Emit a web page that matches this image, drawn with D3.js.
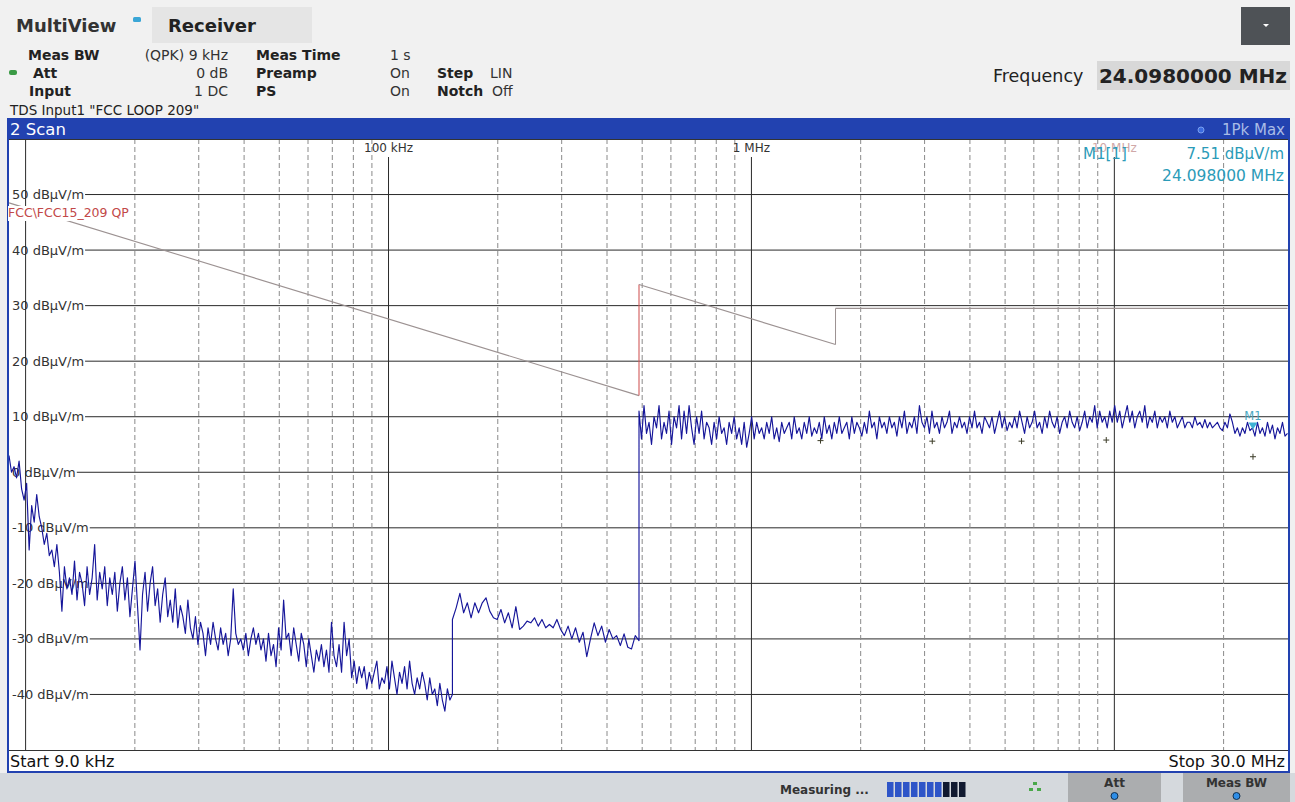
<!DOCTYPE html>
<html>
<head>
<meta charset="utf-8">
<script src="https://cdn.jsdelivr.net/npm/d3@7"></script>
<style>
  html, body { margin: 0; padding: 0; background: #f0f0f0; }
  svg { display: block; }
</style>
</head>
<body>
<svg id="chart" width="1295" height="802"></svg>
<script>
// ── Data (frequencies in kHz, levels in dBµV/m) ───────────────────────────────
const yTicks = [50, 40, 30, 20, 10, 0, -10, -20, -30, -40]
const decadeLines = [10, 100, 1000, 10000]
const decadeLabels = [
  { f: 100, text: '100 kHz' },
  { f: 1000, text: '1 MHz' },
  { f: 10000, text: '10 MHz' },
]
const minorLines = [
  20, 30, 40, 50, 60, 70, 80, 90,
  200, 300, 400, 500, 600, 700, 800, 900,
  2000, 3000, 4000, 5000, 6000, 7000, 8000, 9000,
  20000,
]

// FCC 15.209 QP limit, vertices
const limitPoints = [
  [9, 48.5], [490, 13.8], [490, 33.8], [1705, 23.0], [1705, 29.5], [30000, 29.5],
]

// 1Pk Max trace, three sweep ranges (9–150 kHz, 150–490 kHz, 490 kHz–30 MHz)
const traceLow = [
  3, 0, 1, -1, 2,
  -3, -5, -2, -14,
  -6, -9, -4, -8, -10, -13, -11, -15, -14, -17, -13, -18,
  -25, -17, -21, -19, -22, -16, -23, -18, -20, -24, -17, -22,
  -19, -13, -23, -18, -21, -17, -24, -19, -22, -18, -25, -20,
  -17, -23, -19, -26, -21, -16, -24, -32, -22, -18, -25, -20,
  -17, -24, -21, -27, -22, -19, -26, -23, -27, -21, -28, -24,
  -26, -29, -23, -28, -30, -26, -31, -27, -29, -33, -28, -31,
  -27, -30, -32, -28, -31, -29, -33, -30, -21, -29, -31, -30,
  -32, -29, -33, -30, -28, -31, -29, -32, -30, -34, -29, -33,
  -31, -35, -28, -32, -23, -30, -29, -33, -28, -31, -34, -29,
  -31, -35, -30, -33, -36, -32, -34, -31, -35, -32, -36, -27,
  -33, -35, -31, -36, -27, -33, -30, -37, -34, -38, -35, -37,
  -35, -39, -36, -38, -36, -34, -39, -37, -38, -35, -39, -34,
  -37, -40, -36, -38, -35, -39, -34, -38, -40, -37, -39, -36,
  -38, -41, -37, -40, -39, -42, -38, -41, -43, -39, -41, -40,
]
const traceMid = [
  -26.5, -24.4, -21.8, -25.3, -23.5, -26.2, -23.5, -25.3, -23.5, -22.6,
  -25, -26.2, -26.5, -24.7, -27.1, -25.3, -28, -24.2, -28.3, -27.7,
  -26.8, -27.1, -26.2, -27.7, -26.5, -28, -27.4, -28, -26.5, -28.3,
  -29.4, -27.7, -30, -28, -30.6, -28.8, -33.2, -30, -27.1, -29.4,
  -27.7, -30.6, -28.3, -30, -29.4, -31.2, -29.1, -31.5, -31.8, -29.4, -30.3,
]
const traceHigh = [
  11, 6, 12, 7, 9, 5, 10, 8, 12, 6,
  9, 7, 11, 5, 10, 8, 12, 6, 11, 7,
  12, 8, 5, 10, 7, 11, 6, 9, 8, 5,
  9, 6, 10, 7, 8, 5, 9, 7, 10, 6,
  8, 5, 9, 4.5, 7, 10, 6, 9, 7, 8,
  6, 9, 7, 10, 6, 8, 5.5, 9, 7, 8,
  9, 6, 10, 7, 8, 6, 9, 7, 10, 6.5,
  8, 7, 9, 6, 10, 7, 8.5, 6, 9, 7,
  10, 7, 8, 9, 6, 10, 7, 9, 8, 6.5,
  9, 7, 11, 8, 9, 6, 10, 8, 9, 7,
  10, 8, 9, 6.5, 10, 8, 11, 7, 9, 8,
  10, 7, 12, 9, 8, 10, 7, 11, 8, 9,
  7, 10, 8, 9, 11, 7, 9, 8, 10, 8,
  9, 7, 10, 8, 11, 8, 9, 7, 10, 9,
  8, 10, 7, 9, 11, 8, 10, 7.5, 9, 8,
  10, 8, 11, 9, 7, 10, 8, 9, 11, 8,
  9, 7, 10, 8, 11, 9, 8, 10, 7, 9,
  10, 8, 11, 9, 8, 10, 7.5, 9, 11, 8,
  10, 9, 12, 8, 11, 9, 10, 8, 11, 9,
  12, 9, 11, 8, 10, 12, 9, 11, 8, 10,
  11, 9, 12, 8, 10, 9, 11, 8, 10, 9,
  10, 8, 11, 9, 10, 8, 9, 10, 8, 9,
  9, 8, 10, 8.5, 9, 8, 9.5, 8, 9, 8,
  8.5, 9, 8, 7.5, 9, 8, 10.5, 9, 7, 8,
  6.5, 8, 7, 9, 7.5, 8, 6.5, 9, 7, 8,
  6.5, 9, 7, 8.5, 6, 8, 7, 9, 6.5, 7,
]
const sweepRanges = [
  { from: 9, to: 150, values: traceLow },
  { from: 150, to: 490, values: traceMid },
  { from: 490, to: 30000, values: traceHigh },
]

// peak list crosses
const peaks = [[1550, 5.7], [3150, 5.6], [5550, 5.6], [9500, 5.8], [24100, 2.8]]
const marker = { name: 'M1', f: 24098, level: 7.51 }

// ── Setup ─────────────────────────────────────────────────────────────────────
const FONT = '"DejaVu Sans", Verdana, sans-serif'
const BLUE = '#2242b0'
const W = 1295, H = 802
const plot = { left: 9, right: 1288, top: 139, bottom: 750 }

const svg = d3.select('#chart').attr('font-family', FONT)

const x = d3.scaleLog().domain([9, 30000]).range([9, 1287.5])
const y = d3.scaleLinear().domain([-50, 60]).range([plot.bottom, plot.top])

const txt = (g, px, py, s, size, opts = {}) => g.append('text')
  .attr('x', px).attr('y', py)
  .attr('font-size', size)
  .attr('font-weight', opts.bold ? 'bold' : null)
  .attr('fill', opts.fill || '#222')
  .attr('text-anchor', opts.anchor || 'start')
  .text(s)

// ── Header ────────────────────────────────────────────────────────────────────
const head = svg.append('g')
head.append('rect').attr('width', W).attr('height', 118).attr('fill', '#f1f1f1')
head.append('rect').attr('x', 152).attr('y', 7).attr('width', 160).attr('height', 36).attr('fill', '#e5e5e5')
txt(head, 16, 32, 'MultiView', 18, { bold: true, fill: '#333' })
head.append('rect').attr('x', 133).attr('y', 17).attr('width', 8).attr('height', 5).attr('rx', 1.5).attr('fill', '#3aa6d6')
txt(head, 168, 32, 'Receiver', 18, { bold: true, fill: '#222' })

const rows = [
  { y: 60, label: 'Meas BW', lx: 28, value: '(QPK) 9 kHz', k2: 'Meas Time', v2: '1 s' },
  { y: 78, label: 'Att', lx: 33, value: '0 dB', k2: 'Preamp', v2: 'On', k3: 'Step', v3: 'LIN' },
  { y: 96, label: 'Input', lx: 29, value: '1 DC', k2: 'PS', v2: 'On', k3: 'Notch', v3: 'Off' },
]
rows.forEach(r => {
  txt(head, r.lx, r.y, r.label, 14, { bold: true })
  txt(head, 228, r.y, r.value, 14, { anchor: 'end', fill: '#333' })
  txt(head, 256, r.y, r.k2, 14, { bold: true })
  txt(head, 390, r.y, r.v2, 14, { fill: '#333' })
  if (r.k3) {
    txt(head, 437, r.y, r.k3, 14, { bold: true })
    txt(head, r.k3 === 'Step' ? 490 : 492, r.y, r.v3, 14, { fill: '#333' })
  }
})
head.append('rect').attr('x', 9).attr('y', 70).attr('width', 8).attr('height', 5).attr('rx', 2).attr('fill', '#3a9a45')
txt(head, 10, 115, 'TDS Input1 "FCC LOOP 209"', 13.5, { fill: '#222' })

head.append('rect').attr('x', 1241).attr('y', 7).attr('width', 49).attr('height', 38).attr('fill', '#4e5256')
head.append('path').attr('d', 'M1263,24 L1269,24 L1266,27 Z').attr('fill', '#fff')
txt(head, 993, 82, 'Frequency', 17.5, { fill: '#222' })
head.append('rect').attr('x', 1097).attr('y', 61).attr('width', 193).attr('height', 29).attr('fill', '#d8d8d8')
txt(head, 1287, 83, '24.0980000 MHz', 20, { bold: true, anchor: 'end', fill: '#222' })

// ── Scan window frame ─────────────────────────────────────────────────────────
svg.append('rect').attr('x', 7).attr('y', 118).attr('width', 1283).attr('height', 655).attr('fill', BLUE)
svg.append('rect').attr('x', plot.left).attr('y', plot.top)
  .attr('width', plot.right - plot.left).attr('height', 632 - 1).attr('fill', '#fff')
txt(svg, 10, 135, '2 Scan', 16.5, { fill: '#fff' })
svg.append('circle').attr('cx', 1201).attr('cy', 130).attr('r', 3).attr('fill', '#3b6be0').attr('stroke', '#7aa0f0')
txt(svg, 1285, 135, '1Pk Max', 15, { anchor: 'end', fill: '#a9bbe6' })

const grid = svg.append('g')

// horizontal grid lines start after their label
yTicks.forEach(v => {
  const label = `${v} dBµV/m`
  const t = txt(grid, 12, y(v) + 4.5, label, 13, { fill: '#333' })
  const w = t.node().getComputedTextLength()
  grid.insert('line', 'text')
    .attr('x1', 12 + w + 1).attr('x2', plot.right)
    .attr('y1', y(v)).attr('y2', y(v))
    .attr('stroke', '#2a2a2a').attr('stroke-width', 1)
})

grid.selectAll('.minor').data(minorLines).join('line')
  .attr('class', 'minor')
  .attr('x1', d => x(d)).attr('x2', d => x(d))
  .attr('y1', plot.top).attr('y2', plot.bottom)
  .attr('stroke', '#8a8a8a').attr('stroke-width', 1).attr('stroke-dasharray', '5,3')

grid.selectAll('.decade').data(decadeLines).join('line')
  .attr('class', 'decade')
  .attr('x1', d => x(d)).attr('x2', d => x(d))
  .attr('y1', d => d === 10 ? plot.top : 157).attr('y2', plot.bottom)
  .attr('stroke', '#2a2a2a').attr('stroke-width', 1)

decadeLabels.forEach(d => {
  txt(grid, x(d.f), 152, d.text, 12, {
    anchor: 'middle',
    fill: d.f === 10000 ? '#d0a8a8' : '#333',
  })
})

// frame edges
svg.append('line').attr('x1', plot.left).attr('x2', plot.right).attr('y1', plot.top + 0.5).attr('y2', plot.top + 0.5).attr('stroke', '#333')
svg.append('line').attr('x1', plot.left).attr('x2', plot.right).attr('y1', plot.bottom + 0.5).attr('y2', plot.bottom + 0.5).attr('stroke', '#333')

// ── Limit line ────────────────────────────────────────────────────────────────
const limitLine = d3.line().x(d => x(d[0])).y(d => y(d[1]))
const limitG = svg.append('g')
d3.pairs(limitPoints).forEach(([a, b]) => {
  const vertical = a[0] === b[0]
  limitG.append('path')
    .attr('d', limitLine([a, b]))
    .attr('fill', 'none')
    .attr('stroke', vertical && a[0] === 490 ? '#d25a5a' : '#9c9292')
    .attr('stroke-width', vertical && a[0] === 1705 ? 1 : 1.1)
})
const limLbl = txt(limitG, 8, 217, 'FCC\\FCC15_209 QP', 12.5, { fill: '#c24848' })
const lb = limLbl.node().getBBox()
limitG.insert('rect', 'text').attr('x', lb.x).attr('y', lb.y + 1).attr('width', lb.width).attr('height', lb.height).attr('fill', '#fff')

// ── Trace ─────────────────────────────────────────────────────────────────────
const tracePts = sweepRanges.flatMap(r => r.values.map((v, i) =>
  [r.from * Math.pow(r.to / r.from, i / (r.values.length - 1)), v]))

svg.append('clipPath').attr('id', 'clip').append('rect')
  .attr('x', plot.left).attr('y', plot.top).attr('width', plot.right - plot.left).attr('height', plot.bottom - plot.top)

svg.append('path')
  .attr('clip-path', 'url(#clip)')
  .attr('d', d3.line().x(d => x(d[0])).y(d => y(d[1]))(tracePts))
  .attr('fill', 'none')
  .attr('stroke', '#16169a')
  .attr('stroke-width', 1.15)
  .attr('stroke-linejoin', 'round')

// ── Peaks and marker ──────────────────────────────────────────────────────────
svg.selectAll('.peak').data(peaks).join('path')
  .attr('class', 'peak')
  .attr('d', d => `M${x(d[0]) - 3},${y(d[1])} h6 M${x(d[0])},${y(d[1]) - 3} v6`)
  .attr('stroke', '#3c3c28').attr('stroke-width', 1)

const mx = x(marker.f), my = y(marker.level)
svg.append('path').attr('d', `M${mx - 4.5},${my - 8} L${mx + 4.5},${my - 8} L${mx},${my - 1} Z`).attr('fill', '#3fb2d4')
txt(svg, mx, my - 11, marker.name, 11.5, { anchor: 'middle', fill: '#4aa8c2' })

txt(svg, 1083, 159, 'M1[1]', 15, { fill: '#2b9bb8' })
txt(svg, 1284, 159, `${marker.level.toFixed(2)} dBµV/m`, 15, { anchor: 'end', fill: '#2b9bb8' })
txt(svg, 1284, 181, '24.098000 MHz', 15.5, { anchor: 'end', fill: '#2b9bb8' })

// ── Start / stop strip ────────────────────────────────────────────────────────
svg.append('rect').attr('x', plot.left).attr('y', 751).attr('width', plot.right - plot.left).attr('height', 20).attr('fill', '#fff')
txt(svg, 10, 767, 'Start 9.0 kHz', 16, { fill: '#111' })
txt(svg, 1285, 767, 'Stop 30.0 MHz', 16, { anchor: 'end', fill: '#111' })

// ── Status bar ────────────────────────────────────────────────────────────────
const bar = svg.append('g')
bar.append('rect').attr('y', 773).attr('width', W).attr('height', 29).attr('fill', '#d5d9dd')
txt(bar, 780, 794, 'Measuring ...', 12, { bold: true, fill: '#333' })
const progress = d3.range(10)
bar.selectAll('.blk').data(progress).join('rect')
  .attr('class', 'blk')
  .attr('x', d => 887 + d * 8).attr('y', 782).attr('width', 6.5).attr('height', 15)
  .attr('fill', d => d < 7 ? '#2e55c8' : '#111a30')
;[[1035, 784], [1031, 790], [1039, 790]].forEach(([cx, cy]) =>
  bar.append('rect').attr('x', cx - 2).attr('y', cy - 2).attr('width', 4).attr('height', 3).attr('fill', '#4aa84a'))

const buttons = [{ x: 1068, w: 93, label: 'Att' }, { x: 1183, w: 107, label: 'Meas BW' }]
buttons.forEach(b => {
  bar.append('rect').attr('x', b.x).attr('y', 773).attr('width', b.w).attr('height', 29).attr('fill', '#abadaf')
  txt(bar, b.x + b.w / 2, 787, b.label, 12, { bold: true, anchor: 'middle', fill: '#333' })
  bar.append('circle').attr('cx', b.x + b.w / 2).attr('cy', 796).attr('r', 3.5)
    .attr('fill', '#2e8ee8').attr('stroke', '#103050').attr('stroke-width', 1)
})
</script>
</body>
</html>
